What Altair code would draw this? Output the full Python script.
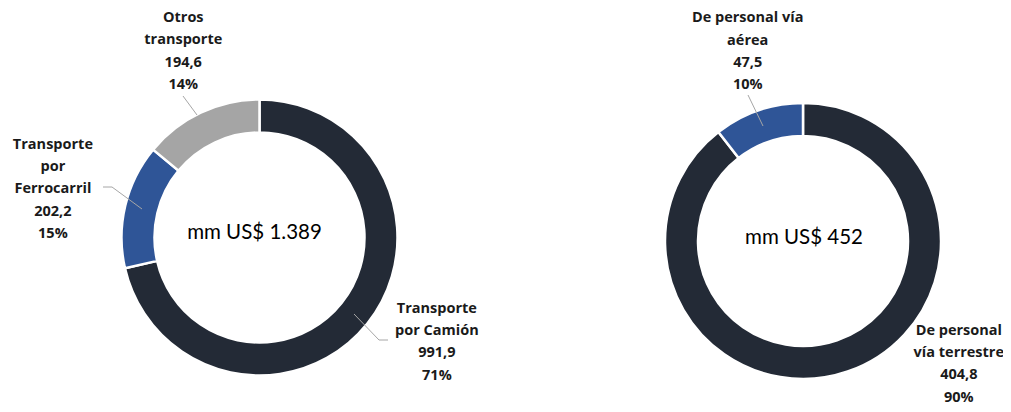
import altair as alt
import pandas as pd

# ---- data ----
left_cats = ["Transporte por Camión", "Transporte por Ferrocarril", "Otros transporte"]
left_vals = [991.9, 202.2, 194.6]
left_pcts = ["71%", "15%", "14%"]
left_name_lines = [["Transporte", "por Camión"], ["Transporte", "por", "Ferrocarril"], ["Otros", "transporte"]]
left_total = "mm US$ 1.389"

right_cats = ["De personal vía terrestre", "De personal vía aérea"]
right_vals = [404.8, 47.5]
right_pcts = ["90%", "10%"]
right_name_lines = [["De personal", "vía terrestre"], ["De personal vía", "aérea"]]
right_total = "mm US$ 452"

all_cats = left_cats + right_cats
palette = ["#232A36", "#2F5597", "#A5A5A5", "#232A36", "#2F5597"]

LABEL_FONT = "Open Sans"
CENTER_FONT = "Lato"
TXT = "#1A1A1A"
LEADER = "#A6A6A6"
LH = 22.3


def make_df(cats, vals, pcts, lines):
    return pd.DataFrame({
        "cat": cats,
        "val": vals,
        "ord": list(range(len(cats))),
        "label": [ln + [f"{v:.1f}".replace(".", ","), p] for ln, v, p in zip(lines, vals, pcts)],
        "nlines": [len(ln) + 2 for ln in lines],
    })


color = alt.Color("cat:N", scale=alt.Scale(domain=all_cats, range=palette), legend=None)
theta_scale = alt.Scale(domain=[0, 1])


def donut(df, cx, cy, total, center_nudge, nudges, leaders):
    base = alt.Chart(df).transform_joinaggregate(
        tot="sum(val)"
    ).transform_window(
        cum="sum(val)", sort=[alt.SortField("ord")], frame=[None, 0]
    ).transform_calculate(
        f0="(datum.cum - datum.val) / datum.tot",
        f1="datum.cum / datum.tot",
        fm="(datum.cum - datum.val / 2) / datum.tot",
    )
    arcs = base.mark_arc(innerRadius=105, outerRadius=138, stroke="white", strokeWidth=2.5).encode(
        theta=alt.Theta("f0:Q", scale=theta_scale),
        theta2="f1:Q",
        color=color, x=alt.value(cx), y=alt.value(cy),
    )
    layers = [arcs]
    for cat, (dx, dy) in nudges.items():
        n = int(df.loc[df["cat"] == cat, "nlines"].iloc[0])
        t = base.transform_filter(alt.datum.cat == cat).mark_text(
            radius=200, dx=dx, dy=dy - (n - 1) * LH / 2, font=LABEL_FONT, fontSize=14.5, fontWeight="bold",
            color=TXT, align="center", baseline="middle", lineHeight=LH,
        ).encode(
            theta=alt.Theta("fm:Q", scale=theta_scale),
            text="label:N", x=alt.value(cx), y=alt.value(cy),
        )
        layers.append(t)
    center = alt.Chart(pd.DataFrame({"t": [total]})).mark_text(
        font=CENTER_FONT, fontSize=20.5, color="#000000", align="center", baseline="middle",
        dx=center_nudge[0], dy=center_nudge[1],
    ).encode(text="t:N", x=alt.value(cx), y=alt.value(cy))
    layers.append(center)
    for (x1, y1, x2, y2) in leaders:
        layers.append(
            alt.Chart(pd.DataFrame({"a": [0]})).mark_rule(color=LEADER, strokeWidth=1).encode(
                x=alt.value(x1 - 8), y=alt.value(y1 - 8), x2=alt.value(x2 - 8), y2=alt.value(y2 - 8)
            )
        )
    return alt.layer(*layers)


left_df = make_df(left_cats, left_vals, left_pcts, left_name_lines)
right_df = make_df(right_cats, right_vals, right_pcts, right_name_lines)

left = donut(
    left_df, 259.5 - 8, 237.5 - 8, left_total, (-5, -5),
    {"Transporte por Camión": (21, -20), "Transporte por Ferrocarril": (-12, -2), "Otros transporte": (9, -5)},
    [(183, 96, 197, 115), (103, 187, 112, 187), (112, 187, 142, 209), (354, 314, 379, 340), (379, 340, 388, 340)],
)
right = donut(
    right_df, 803 - 8, 241 - 8, right_total, (1, -3),
    {"De personal vía terrestre": (91, -66), "De personal vía aérea": (9.5, 0)},
    [(748, 95, 763, 126)],
)

chart = alt.layer(left, right).properties(
    width=995, height=396, autosize=alt.AutoSizeParams(type="none"), padding=0
).configure_view(stroke=None)

chart.save("out.html", embed_options={"renderer": "svg", "actions": False})
